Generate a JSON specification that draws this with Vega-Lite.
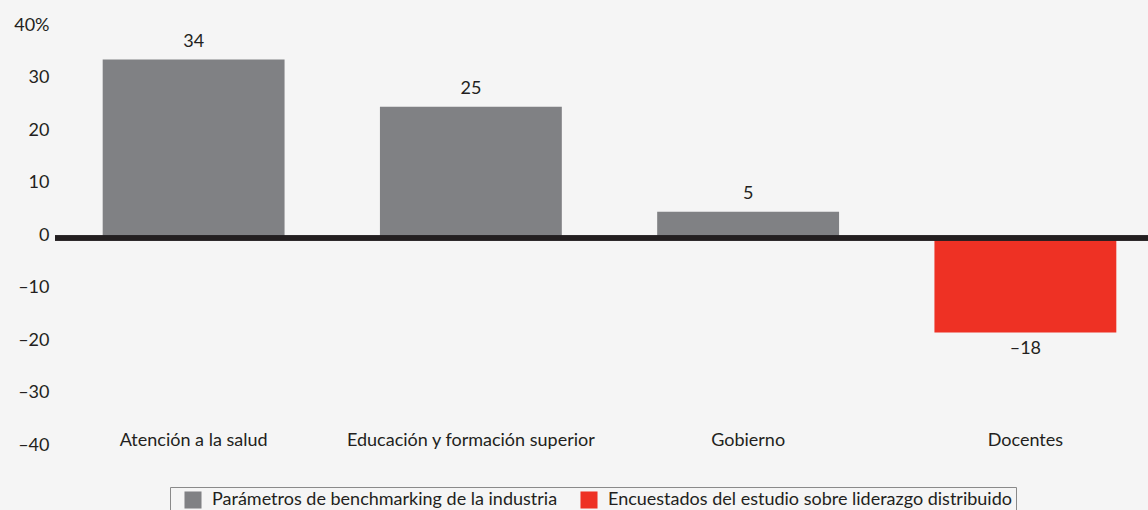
{
  "$schema": "https://vega.github.io/schema/vega-lite/v6.json",
  "width": 1109,
  "height": 420,
  "autosize": "none",
  "padding": {"left": 55, "top": 28, "right": 0, "bottom": 62},
  "background": "#f5f5f5",
  "config": {
    "view": {"stroke": null},
    "font": "Lato",
    "text": {"font": "Lato", "fontSize": 18, "color": "#231f20"}
  },
  "data": {
    "values": [
      {"categoria": "Atención a la salud", "valor": 34, "grupo": "Parámetros de benchmarking de la industria"},
      {"categoria": "Educación y formación superior", "valor": 25, "grupo": "Parámetros de benchmarking de la industria"},
      {"categoria": "Gobierno", "valor": 5, "grupo": "Parámetros de benchmarking de la industria"},
      {"categoria": "Docentes", "valor": -18, "grupo": "Encuestados del estudio sobre liderazgo distribuido"}
    ]
  },
  "encoding": {
    "x": {
      "field": "categoria",
      "type": "nominal",
      "sort": null,
      "scale": {"paddingInner": 0.344, "paddingOuter": 0.172},
      "axis": {
        "title": null,
        "domain": false,
        "ticks": false,
        "labelAngle": 0,
        "offset": -22,
        "labelPadding": 5,
        "labelLimit": 400,
        "labelFont": "Lato",
        "labelFontSize": 18,
        "labelColor": "#231f20"
      }
    }
  },
  "layer": [
    {
      "mark": {"type": "bar"},
      "encoding": {
        "y": {
          "field": "valor",
          "type": "quantitative",
          "scale": {"domain": [-40, 40], "nice": false},
          "axis": {
            "title": null,
            "domain": false,
            "ticks": false,
            "grid": false,
            "values": [-40, -30, -20, -10, 0, 10, 20, 30, 40],
            "labelExpr": "datum.value == 40 ? '40%' : (datum.value < 0 ? '–' + abs(datum.value) : '' + datum.value)",
            "labelPadding": 6,
            "labelOffset": -3,
            "labelFont": "Lato",
            "labelFontSize": 18,
            "labelColor": "#231f20"
          }
        },
        "color": {
          "field": "grupo",
          "type": "nominal",
          "sort": null,
          "scale": {
            "domain": ["Parámetros de benchmarking de la industria", "Encuestados del estudio sobre liderazgo distribuido"],
            "range": ["#808184", "#ee3124"]
          },
          "legend": {
            "title": null,
            "orient": "none",
            "legendX": 115,
            "legendY": 459,
            "direction": "horizontal",
            "symbolType": "square",
            "symbolSize": 290,
            "symbolStrokeWidth": 0,
            "symbolOffset": 10,
            "labelFont": "Lato",
            "labelFontSize": 18,
            "labelColor": "#231f20",
            "labelLimit": 600,
            "labelOffset": 10,
            "columnPadding": 12,
            "padding": 4,
            "strokeColor": "#8a8a8a",
            "fillColor": "#f5f5f5"
          }
        }
      }
    },
    {
      "mark": {"type": "rule", "color": "#231f20", "strokeWidth": 5},
      "encoding": {"x": null, "y": {"datum": 0}}
    },
    {
      "transform": [{"filter": "datum.valor >= 0"}],
      "mark": {"type": "text", "fontSize": 18, "color": "#231f20", "baseline": "bottom", "dy": -9},
      "encoding": {
        "y": {"field": "valor", "type": "quantitative"},
        "text": {"field": "valor", "type": "quantitative", "format": "d"}
      }
    },
    {
      "transform": [
        {"filter": "datum.valor < 0"},
        {"calculate": "'–' + abs(datum.valor)", "as": "etiqueta"}
      ],
      "mark": {"type": "text", "fontSize": 18, "color": "#231f20", "baseline": "top", "dy": 7},
      "encoding": {
        "y": {"field": "valor", "type": "quantitative"},
        "text": {"field": "etiqueta"}
      }
    }
  ]
}
